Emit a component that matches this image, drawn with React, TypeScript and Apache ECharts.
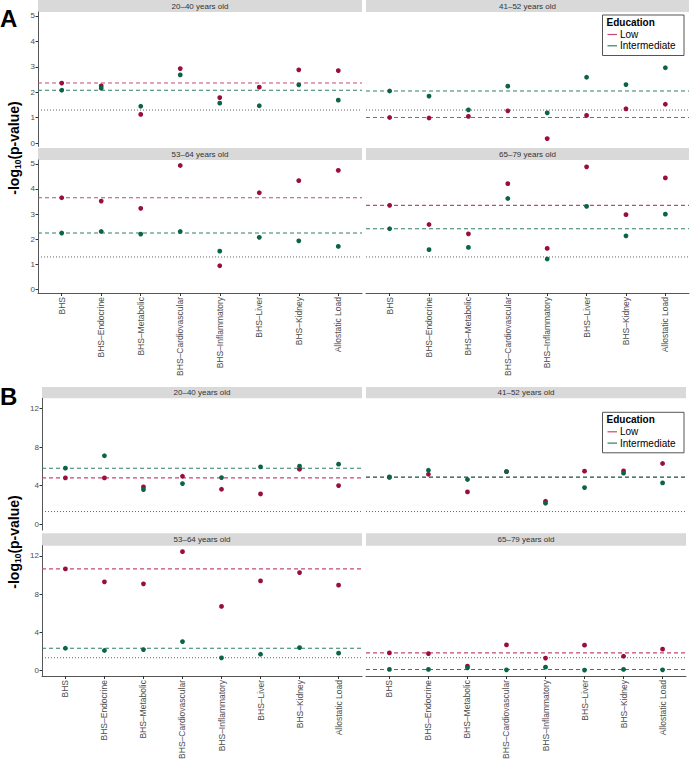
import React, { useEffect, useRef } from "react";
import * as echarts from "echarts";

const categories = [
  "BHS",
  "BHS–Endocrine",
  "BHS–Metabolic",
  "BHS–Cardiovascular",
  "BHS–Inflammatory",
  "BHS–Liver",
  "BHS–Kidney",
  "Allostatic Load",
];
const ageGroups = ["20–40 years old", "41–52 years old", "53–64 years old", "65–79 years old"];

// Panel A
const aLow_20_40 = [2.36, 2.25, 1.13, 2.93, 1.79, 2.2, 2.88, 2.85];
const aInt_20_40 = [2.08, 2.16, 1.45, 2.68, 1.57, 1.47, 2.29, 1.69];
const aLow_41_52 = [1.01, 0.99, 1.05, 1.27, 0.18, 1.09, 1.35, 1.53];
const aInt_41_52 = [2.05, 1.85, 1.31, 2.24, 1.19, 2.59, 2.3, 2.96];
const aLow_53_64 = [3.65, 3.52, 3.23, 4.93, 0.95, 3.85, 4.33, 4.74];
const aInt_53_64 = [2.25, 2.31, 2.21, 2.31, 1.53, 2.08, 1.94, 1.72];
const aLow_65_79 = [3.35, 2.59, 2.22, 4.21, 1.64, 4.88, 2.98, 4.44];
const aInt_65_79 = [2.42, 1.59, 1.68, 3.62, 1.22, 3.31, 2.14, 3.0];

// Panel B
const bLow_20_40 = [4.8, 4.8, 3.86, 4.97, 3.62, 3.13, 5.7, 4.0];
const bInt_20_40 = [5.81, 7.1, 3.58, 4.21, 4.83, 5.95, 6.02, 6.23];
const bLow_41_52 = [4.85, 5.18, 3.34, 5.45, 2.37, 5.5, 5.53, 6.3];
const bInt_41_52 = [4.9, 5.6, 4.63, 5.46, 2.16, 3.79, 5.29, 4.28];
const bLow_53_64 = [10.64, 9.28, 9.07, 12.45, 6.7, 9.38, 10.25, 8.93];
const bInt_53_64 = [2.3, 2.06, 2.16, 3.0, 1.29, 1.67, 2.37, 1.78];
const bLow_65_79 = [1.81, 1.74, 0.42, 2.65, 1.26, 2.62, 1.46, 2.2];
const bInt_65_79 = [0.07, 0.07, 0.24, 0.03, 0.31, 0.0, 0.07, 0.03];

const yTicksA = [0, 1, 2, 3, 4, 5];
const yTicksB = [0, 4, 8, 12];
const significance = 1.301; // -log10(0.05)
const legendTitle = "Education";
const legendNames = ["Low", "Intermediate"];

const LOW = "#9a0e3e";
const INT = "#0b6545";
const LOW_LINE = "#c24a74";
const INT_LINE = "#2f8060";
const FONT = "Liberation Sans, Arial, sans-serif";
const X_MIN = -0.6;
const X_MAX = categories.length - 0.4;

const figures = [
  {
    letter: "A",
    low: [aLow_20_40, aLow_41_52, aLow_53_64, aLow_65_79],
    int: [aInt_20_40, aInt_41_52, aInt_53_64, aInt_65_79],
    ticks: yTicksA,
    yMin: -0.13,
    yMax: 5.15,
    rows: [
      { strip: 0, top: 12, bottom: 146.5 },
      { strip: 148, top: 160, bottom: 293 },
    ],
    cols: [
      [38, 362],
      [366, 689],
    ],
    letterY: 18.5,
    titleY: 148,
    legendY: 15,
  },
  {
    letter: "B",
    low: [bLow_20_40, bLow_41_52, bLow_53_64, bLow_65_79],
    int: [bInt_20_40, bInt_41_52, bInt_53_64, bInt_65_79],
    ticks: yTicksB,
    yMin: -0.62,
    yMax: 13.08,
    rows: [
      { strip: 387, top: 398.3, bottom: 530 },
      { strip: 533.3, top: 545.7, bottom: 676 },
    ],
    cols: [
      [42, 362],
      [366, 686],
    ],
    letterY: 396.7,
    titleY: 542,
    legendY: 412.3,
  },
];

function hlineSeries(gi: number, name: string, value: number, color: string, type: any, width: number) {
  return {
    type: "line",
    name,
    xAxisIndex: gi,
    yAxisIndex: gi,
    silent: true,
    showSymbol: false,
    symbol: "none",
    z: 1,
    emphasis: { disabled: true },
    lineStyle: { color, type, width, opacity: 1 },
    itemStyle: { color },
    data: [
      [X_MIN, value],
      [X_MAX, value],
    ],
  };
}

function buildOption() {
  const grid: any[] = [];
  const xAxis: any[] = [];
  const yAxis: any[] = [];
  const series: any[] = [];
  const graphic: any[] = [];
  const xIdx = categories.map((_, i) => i);

  figures.forEach((fig) => {
    fig.low.forEach((lowVals, p) => {
      const intVals = fig.int[p];
      const r = Math.floor(p / 2);
      const c = p % 2;
      const row = fig.rows[r];
      const col = fig.cols[c];
      const gi = grid.length;
      const isBottom = r === 1;
      const isLeft = c === 0;
      grid.push({
        left: col[0],
        top: row.top,
        width: col[1] - col[0],
        height: row.bottom - row.top,
        containLabel: false,
      });
      xAxis.push({
        type: "value",
        gridIndex: gi,
        min: X_MIN,
        max: X_MAX,
        splitLine: { show: false },
        axisLine: { show: isBottom, onZero: false, lineStyle: { color: "#555", width: 1 } },
        axisTick: {
          show: isBottom,
          customValues: xIdx,
          length: 3,
          lineStyle: { color: "#333" },
        },
        axisLabel: {
          show: isBottom,
          customValues: xIdx,
          rotate: 90,
          margin: 4,
          fontSize: 8.5,
          fontFamily: FONT,
          color: "#4d4d4d",
          formatter: (v: number) => categories[Math.round(v)] ?? "",
        },
      });
      yAxis.push({
        type: "value",
        gridIndex: gi,
        min: fig.yMin,
        max: fig.yMax,
        splitLine: { show: false },
        axisLine: { show: isLeft, onZero: false, lineStyle: { color: "#555", width: 1 } },
        axisTick: {
          show: isLeft,
          customValues: fig.ticks,
          length: 2.5,
          lineStyle: { color: "#333" },
        },
        axisLabel: {
          show: isLeft,
          customValues: fig.ticks,
          margin: 3,
          fontSize: 8,
          fontFamily: FONT,
          color: "#4d4d4d",
        },
      });
      series.push(hlineSeries(gi, "p = 0.05", significance, "#555", [1, 2], 0.9));
      series.push(hlineSeries(gi, "Low reference", lowVals[0], LOW_LINE, [4, 3], 1.1));
      series.push(hlineSeries(gi, "Intermediate reference", intVals[0], INT_LINE, [4, 3], 1.1));
      series.push({
        type: "scatter",
        name: legendNames[0],
        xAxisIndex: gi,
        yAxisIndex: gi,
        symbolSize: 4.8,
        itemStyle: { color: LOW, opacity: 1 },
        data: lowVals.map((v, i) => [i, v]),
        z: 3,
      });
      series.push({
        type: "scatter",
        name: legendNames[1],
        xAxisIndex: gi,
        yAxisIndex: gi,
        symbolSize: 4.8,
        itemStyle: { color: INT, opacity: 1 },
        data: intVals.map((v, i) => [i, v]),
        z: 3,
      });
      // strip
      graphic.push({
        type: "rect",
        shape: { x: col[0], y: row.strip, width: col[1] - col[0], height: row.top - row.strip },
        style: { fill: "#d9d9d9" },
        silent: true,
      });
      graphic.push({
        type: "text",
        x: (col[0] + col[1]) / 2,
        y: (row.strip + row.top) / 2,
        style: {
          text: ageGroups[p],
          fontSize: 8,
          fontFamily: FONT,
          fill: "#333",
          align: "center",
          verticalAlign: "middle",
        },
        silent: true,
      });
    });

    // figure letter
    graphic.push({
      type: "text",
      x: 0,
      y: fig.letterY,
      style: {
        text: fig.letter,
        fontSize: 24,
        fontWeight: "bold",
        fontFamily: FONT,
        fill: "#000",
        align: "left",
        verticalAlign: "middle",
      },
      silent: true,
    });
    // y title
    graphic.push({
      type: "text",
      x: 14,
      y: fig.titleY,
      rotation: Math.PI / 2,
      style: {
        text: "-log{sub|10}(p-value)",
        fontSize: 14,
        fontWeight: "bold",
        fontFamily: FONT,
        fill: "#000",
        align: "center",
        verticalAlign: "middle",
        rich: {
          sub: {
            fontSize: 8.5,
            fontWeight: "bold",
            fontFamily: FONT,
            fill: "#000",
            verticalAlign: "bottom",
            padding: [7, 0, 0, 0],
          },
        },
      },
      silent: true,
    });
    // legend
    const ly = fig.legendY;
    graphic.push({
      type: "rect",
      shape: { x: 602.5, y: ly, width: 81.5, height: 40.5 },
      style: { fill: "#fff", stroke: "#555", lineWidth: 1 },
      silent: true,
      z: 10,
    });
    graphic.push({
      type: "text",
      x: 606.5,
      y: ly + 7.5,
      style: {
        text: legendTitle,
        fontSize: 10,
        fontWeight: "bold",
        fontFamily: FONT,
        fill: "#000",
        verticalAlign: "middle",
      },
      silent: true,
      z: 11,
    });
    [LOW_LINE, INT_LINE].forEach((colr, k) => {
      const yy = ly + 19.5 + k * 11.3;
      graphic.push({
        type: "line",
        shape: { x1: 607.5, y1: yy, x2: 617, y2: yy },
        style: { stroke: colr, lineWidth: 1.2 },
        silent: true,
        z: 11,
      });
      graphic.push({
        type: "text",
        x: 620,
        y: yy,
        style: {
          text: legendNames[k],
          fontSize: 10,
          fontFamily: FONT,
          fill: "#000",
          verticalAlign: "middle",
        },
        silent: true,
        z: 11,
      });
    });
  });

  return {
    animation: false,
    backgroundColor: "#fff",
    textStyle: { fontFamily: FONT },
    grid,
    xAxis,
    yAxis,
    series,
    graphic,
  };
}

export default function App() {
  const ref = useRef<HTMLDivElement>(null);
  useEffect(() => {
    if (!ref.current) return;
    const chart = echarts.init(ref.current, undefined, { renderer: "svg" });
    chart.setOption(buildOption() as any);
    return () => chart.dispose();
  }, []);
  return (
    <div
      ref={ref}
      style={{ position: "absolute", left: 0, top: 0, width: 690, height: 762, background: "#fff" }}
    />
  );
}
